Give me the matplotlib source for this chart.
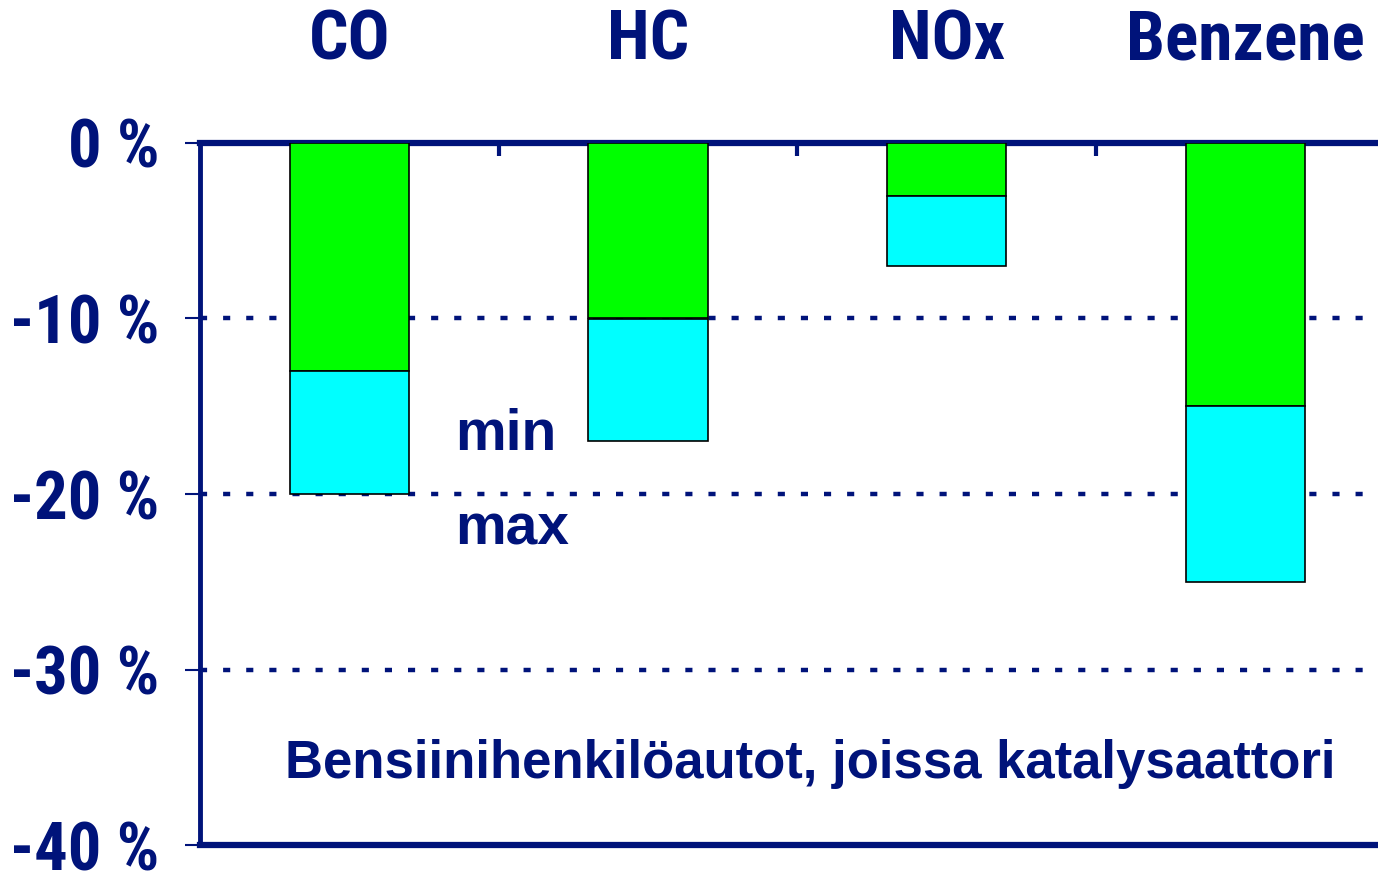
import matplotlib.pyplot as plt

# Emission change ranges for petrol cars with catalytic converter
categories = ["CO", "HC", "NOx", "Benzene"]
min_change = [-13, -10, -3, -15]
max_change = [-20, -17, -7, -25]
y_ticks = [0, -10, -20, -30, -40]
y_labels = ["0 %", "-10 %", "-20 %", "-30 %", "-40 %"]

navy = "#00137A"
narrow = ["Roboto Condensed", "Liberation Sans"]

fig = plt.figure(figsize=(13.78, 8.71), dpi=100)
ax = fig.add_axes([200 / 1378, 26 / 871, 1178 / 1378, 702 / 871])

x = list(range(len(categories)))
bar_w = 0.40
ax.bar(x, min_change, width=bar_w, color="#00FF00", edgecolor="black", linewidth=1.2, zorder=3)
extra = [mx - mn for mn, mx in zip(min_change, max_change)]
ax.bar(x, extra, bottom=min_change, width=bar_w, color="#00FFFF", edgecolor="black", linewidth=1.2, zorder=3)

ax.set_xlim(-0.5, 1178 / 298.7 - 0.5)
ax.set_ylim(-40, 0)

# dotted reference lines
for gy in [-10, -20, -30]:
    ax.axhline(gy, color=navy, linewidth=3.2, linestyle=(0, (1.6, 3.6)), zorder=1)

ax.spines["right"].set_visible(False)
for side in ["left", "top", "bottom"]:
    ax.spines[side].set_color(navy)
ax.spines["left"].set_linewidth(3.5)
ax.spines["top"].set_linewidth(4.5)
ax.spines["bottom"].set_linewidth(4.5)

ax.set_yticks(y_ticks)
ax.set_yticklabels(y_labels, fontsize=48, fontweight="bold", color=navy, family=narrow)
ax.tick_params(axis="y", direction="out", length=11, width=1.5, color=navy, pad=18)

ax.xaxis.tick_top()
ax.set_xticks(x)
ax.set_xticklabels(categories, fontsize=50, fontweight="bold", color=navy, family=narrow)
ax.set_xticks([0.5, 1.5, 2.5], minor=True)
ax.tick_params(axis="x", which="major", length=0, pad=50)
ax.tick_params(axis="x", which="minor", direction="in", length=9, width=3, color=navy)

ax.text(0.354, -17.5, "min", fontsize=41, fontweight="bold", color=navy,
        family="Liberation Sans", ha="left", va="baseline")
ax.text(0.354, -22.9, "max", fontsize=41, fontweight="bold", color=navy,
        family="Liberation Sans", ha="left", va="baseline")
ax.text(-0.215, -36.2, "Bensiinihenkilöautot, joissa katalysaattori", fontsize=38,
        fontweight="bold", color=navy, family="Liberation Sans", ha="left", va="baseline")

fig.savefig("out.png", dpi=100)
